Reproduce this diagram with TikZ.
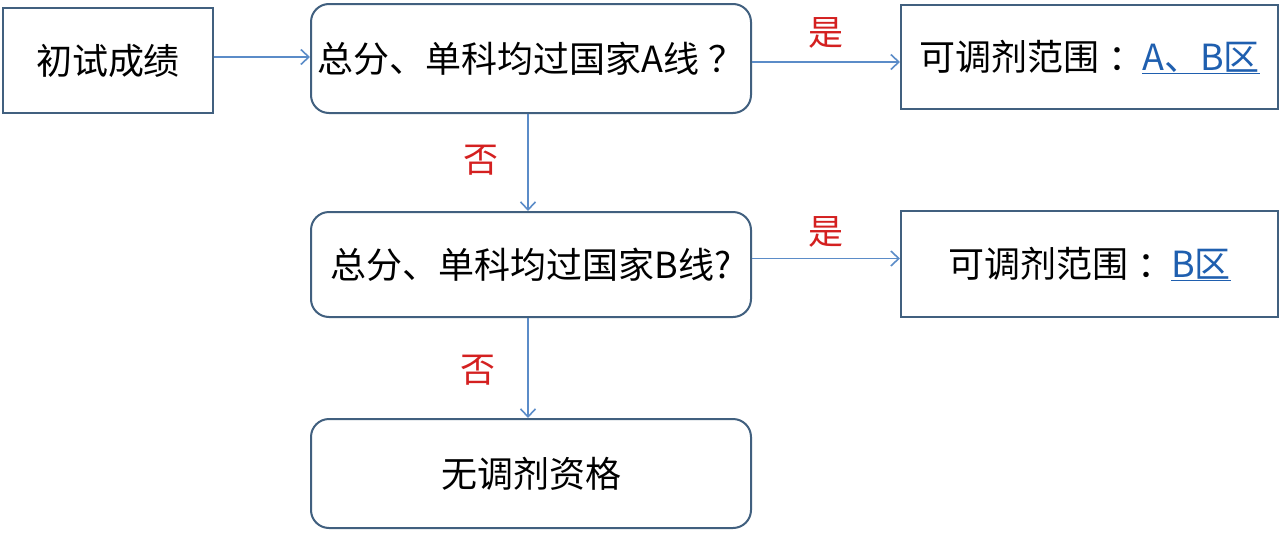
\documentclass[tikz,border=0pt]{standalone}
\usepackage{fontspec}
\setmainfont{Noto Sans CJK SC}
\usetikzlibrary{arrows.meta,calc}
\definecolor{boxline}{HTML}{41607F}
\definecolor{arrowc}{HTML}{5B8CC8}
\definecolor{yesno}{HTML}{D42020}
\definecolor{linkc}{HTML}{1F5FAF}
\tikzset{
  sqbox/.style={draw=boxline, line width=2pt, fill=white, inner sep=0pt, font=\fontsize{36}{42}\selectfont},
  rdbox/.style={sqbox, rounded corners=18pt},
  conn/.style={draw=arrowc, line width=1.6pt, -{Straight Barb[length=8pt,width=15pt,line width=1.6pt]}},
  lab/.style={text=yesno, font=\fontsize{35}{40}\selectfont},
}
\newcommand{\lnk}[1]{\textcolor{linkc}{\underline{#1}}}
\begin{document}
\begin{tikzpicture}[x=1pt,y=-1pt]
\path[use as bounding box, fill=white] (0,0) rectangle (1286,536);
\node[sqbox, minimum width=210pt, minimum height=105pt] (b1) at (108,60.5) {初试成绩};
\node[rdbox, minimum width=440pt, minimum height=109pt] (b2) at (531,58.5) {总分、单科均过国家A线\hspace{0.25em}？};
\node[sqbox, minimum width=377pt, minimum height=104pt] (b3) at (1089.5,57) {可调剂范围\hspace{0.25em}：\hspace{-0.05em}\lnk{A、B区}};
\node[rdbox, minimum width=440pt, minimum height=105pt] (b4) at (531,264.5) {总分、单科均过国家B线?};
\node[sqbox, minimum width=377pt, minimum height=106pt] (b5) at (1089.5,264) {可调剂范围\hspace{0.25em}：\hspace{-0.05em}\lnk{B区}};
\node[rdbox, minimum width=440pt, minimum height=109pt] (b6) at (531,473.5) {无调剂资格};
\draw[conn] ([yshift=3.5pt]b1.east) -- ([yshift=3.5pt]b1.east -| b2.west);
\draw[conn] ([yshift=-3.5pt]b2.east) -- ([yshift=-3.5pt]b2.east -| b3.west);
\draw[conn] ([xshift=-3pt]b2.south) -- ([xshift=-3pt]b4.north);
\draw[conn] ([yshift=6pt]b4.east) -- ([yshift=6pt]b4.east -| b5.west);
\draw[conn] ([xshift=-3pt]b4.south) -- ([xshift=-3pt]b6.north);
\node[lab] (y1) at (826,33) {是};
\node[lab] (y2) at (826,232) {是};
\node[lab] (n1) at (481,160) {否};
\node[lab] (n2) at (478,370) {否};
\end{tikzpicture}
\end{document}
